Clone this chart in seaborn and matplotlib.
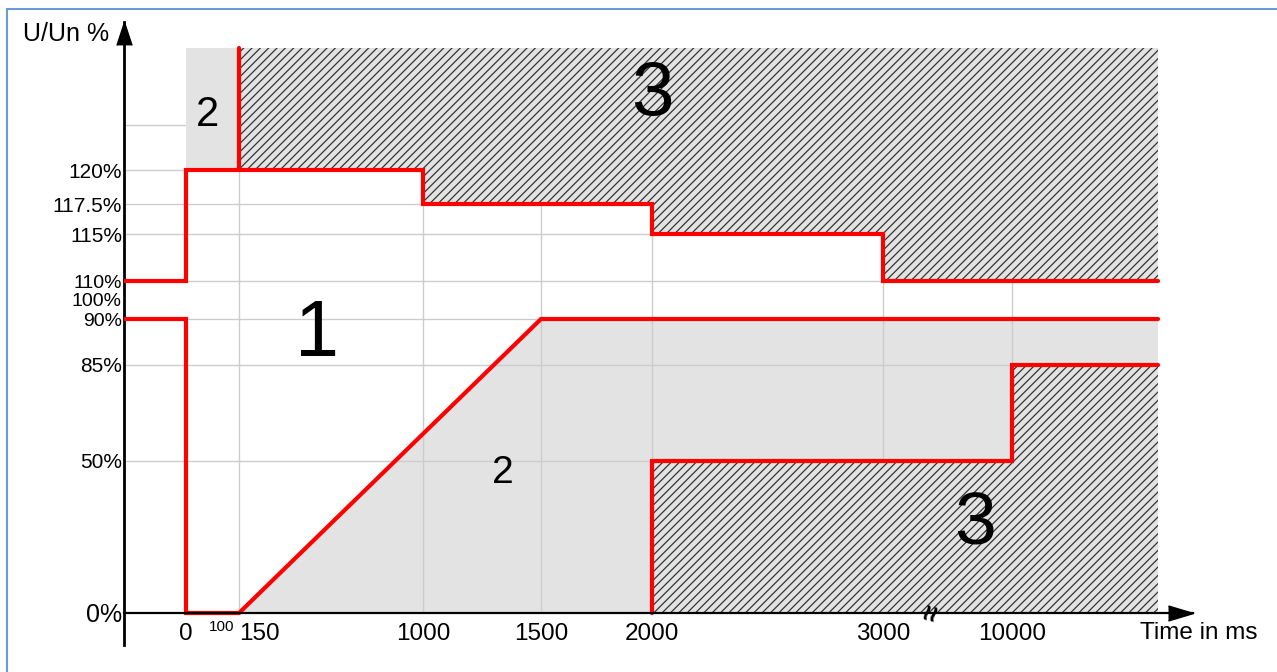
import numpy as np
import pandas as pd
import matplotlib
matplotlib.use("Agg")
import matplotlib.pyplot as plt
from matplotlib.lines import Line2D
import seaborn as sns

# axis ticks (time in ms, voltage in % of Un)
x_ticks = [0, 150, 1000, 1500, 2000, 3000, 10000]
y_ticks = [0, 50, 85, 90, 100, 110, 115, 117.5, 120]
y_labels = ["0%", "50%", "85%", "90%", "100%", "110%", "115%", "117.5%", "120%"]

t_end = 12000   # right end of the zones
u_top = 150     # top of the zones

# over-voltage limit (level before 0 ms, then steps)
ovr_pre = 110
ovr_t = [0, 1000, 2000, 3000]
ovr_u = [120, 117.5, 115, 110]

# under-voltage ride-through curve
uvr_pre = 90
uvr_t = [0, 0, 150, 1500]
uvr_u = [90, 0, 0, 90]

# lower trip zone 3
trip_t = [2000, 10000]
trip_u = [50, 85]

grid_u = [50, 85, 90, 110, 115, 117.5, 120, 130]
grid_t = [150, 1000, 1500, 2000, 3000, 10000]

# the drawing uses a non-linear scale on both axes
W, H = 1277, 672
T_KNOTS = np.array([-300, 0, 150, 1000, 1500, 2000, 3000, 10000, 12000, 12500])
T_PX = np.array([124, 186, 239, 423, 541, 652, 883, 1012, 1158, 1193])
U_KNOTS = np.array([-12, 0, 50, 85, 90, 110, 115, 117.5, 120, 130, 150, 160])
U_PX = -np.array([645, 613, 461, 365, 319, 281, 234, 204, 170, 125, 48, 22])
T_LEFT = T_KNOTS[0]


def steps(t, u, t0, u0, t1):
    xs, ys = [t0], [u0]
    for ti, ui in zip(t, u):
        xs += [ti, ti]
        ys += [ys[-1], ui]
    xs.append(t1)
    ys.append(ys[-1])
    return xs, ys


sns.set_theme(style="white")
plt.rcParams["font.family"] = ["Liberation Sans", "DejaVu Sans"]
plt.rcParams["hatch.color"] = "#333333"
plt.rcParams["hatch.linewidth"] = 0.9

fig = plt.figure(figsize=(W / 100, H / 100), dpi=100)
fig.patch.set_facecolor("white")
ax = fig.add_axes([124 / W, (H - 645) / H, (1193 - 124) / W, (645 - 22) / H])
ax.set_facecolor("none")

ax.set_xscale("function", functions=(lambda x: np.interp(x, T_KNOTS, T_PX),
                                     lambda p: np.interp(p, T_PX, T_KNOTS)))
ax.set_yscale("function", functions=(lambda u: np.interp(u, U_KNOTS, U_PX),
                                     lambda p: np.interp(p, U_PX, U_KNOTS)))
ax.set_xlim(T_KNOTS[0], T_KNOTS[-1])
ax.set_ylim(U_KNOTS[0], U_KNOTS[-1])

gray = "#e3e3e3"
red = "#ff0000"

# zone 2 (gray)
ax.fill([uvr_t[2], uvr_t[3], t_end, t_end], [0, uvr_u[3], uvr_u[3], 0],
        color=gray, lw=0, zorder=1)
ax.fill_between([0, 150], 120, u_top, color=gray, lw=0, zorder=3)

# grid
ax.hlines(grid_u, T_LEFT, t_end, color="#cccccc", lw=1.0, zorder=2)
ax.vlines(grid_t, 0, u_top, color="#cccccc", lw=1.0, zorder=2)

# zone 3 (hatched)
hx, hy = steps(ovr_t[1:], ovr_u[1:], 150, ovr_u[0], t_end)
ax.fill_between(hx, hy, u_top, facecolor=gray, edgecolor="#333333",
                hatch="////", lw=0, zorder=3)
bx, by = steps(trip_t, trip_u, trip_t[0], 0, t_end)
ax.fill_between(bx, 0, by, facecolor=gray, edgecolor="#333333",
                hatch="////", lw=0, zorder=3)

# red limit curves
ux, uy = steps(ovr_t, ovr_u, T_LEFT, ovr_pre, t_end)
lx = [T_LEFT] + uvr_t + [t_end]
ly = [uvr_pre] + uvr_u + [uvr_u[-1]]
lines = [(ux, uy), (lx, ly), (bx, by), ([150, 150], [ovr_u[0], u_top])]
for xs, ys in lines:
    sns.lineplot(x=xs, y=ys, ax=ax, color=red, lw=3, sort=False,
                 estimator=None, zorder=4, solid_joinstyle="miter")

# axes with arrows
for s in ["top", "right"]:
    ax.spines[s].set_visible(False)
ax.spines["bottom"].set_position(("data", 0))
ax.spines["bottom"].set_color("black")
ax.spines["bottom"].set_linewidth(1.6)
ax.spines["left"].set_color("black")
ax.spines["left"].set_linewidth(2.0)
ax.spines["bottom"].set_zorder(5)
ax.plot(1, 0, marker=[(-1, -0.3), (0, 0), (-1, 0.3)], ms=36, color="black",
        transform=ax.get_yaxis_transform(), clip_on=False, zorder=6)
ax.plot(0, 1, marker=[(-0.33, -1), (0, 0), (0.33, -1)], ms=33, color="black",
        transform=ax.transAxes, clip_on=False, zorder=6)

ax.set_xticks(x_ticks)
ax.set_xticklabels([str(t) for t in x_ticks], fontsize=17.5)
ax.set_yticks(y_ticks)
# 100% is written separately (it sits tight between 110% and 90%)
ax.set_yticklabels(["" if l == "100%" else l for l in y_labels], fontsize=15)
ax.tick_params(axis="x", length=0, pad=7, colors="black")
ax.tick_params(axis="y", length=0, pad=1.5, colors="black")
for lbl in ax.get_yticklabels():
    if lbl.get_text() == "0%":
        lbl.set_fontsize(18)
    if lbl.get_text() in ("90%", "110%"):
        lbl.set_fontsize(14)
for lbl in ax.get_xticklabels():
    if lbl.get_text() == "150":
        lbl.set_ha("left")
ax.minorticks_off()

ax.annotate("100%", xy=(0, 100), xycoords=("axes fraction", "data"),
            xytext=(-1.5, -1.2), textcoords="offset points", ha="right",
            va="center", fontsize=14, color="black")
ax.annotate("100", xy=(100, 0), xytext=(0, -10), textcoords="offset points",
            ha="center", va="center", fontsize=11, color="black")
ax.annotate("\u2248", xy=(5700, 0), ha="center", va="center", rotation=75,
            fontsize=21, fontweight="bold", color="black", zorder=7)


def px_text(x, y, s, size, ha="center"):
    fig.text(x / W, 1 - y / H, s, fontsize=size, ha=ha, va="center", color="black")


px_text(23, 34, "U/Un %", 18, ha="left")
px_text(1140, 633, "Time in ms", 17.5, ha="left")
px_text(317, 335, "1", 57)
px_text(652, 95, "3", 55)
px_text(975, 525, "3", 54)
px_text(207, 115, "2", 30)
px_text(503, 473, "2", 28)

# blue frame of the original drawing
frame = dict(transform=fig.transFigure, color="#6a9bd8", lw=1.5)
fig.add_artist(Line2D([7 / W, 7 / W], [0, 1 - 9 / H], **frame))
fig.add_artist(Line2D([7 / W, 1], [1 - 9 / H, 1 - 9 / H], **frame))

fig.savefig("out.png", dpi=100)
